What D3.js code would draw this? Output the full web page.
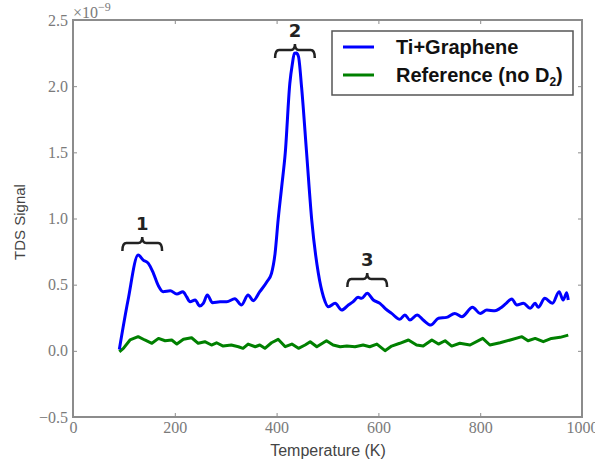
<!DOCTYPE html>
<html><head><meta charset="utf-8">
<script src="https://cdn.jsdelivr.net/npm/d3@7"></script>
<style>body{margin:0;background:#fff}svg{display:block}</style>
</head><body>
<script>
// Temperature (K) and TDS signal (×1e-9)
const blueT = [91,108,128,138,148,158,168,177,191,204,216,223,230,240,249,256,264,274,289,302,318,331,344,354,367,381,390,397,403,410,417,426,431,435,439,443,449,459,469,482,492,502,515,528,541,550,560,567,578,590,603,613,626,642,652,662,676,688,703,718,734,750,764,785,800,813,829,839,851,862,872,885,898,908,914,927,942,955,963,970,973];
const blueV = [0.01,0.38,0.724,0.686,0.661,0.586,0.49,0.447,0.454,0.429,0.447,0.409,0.371,0.384,0.339,0.359,0.422,0.364,0.371,0.371,0.394,0.346,0.422,0.379,0.447,0.522,0.586,0.737,0.989,1.24,1.495,2.022,2.17,2.249,2.25,2.223,1.996,1.493,0.989,0.586,0.409,0.333,0.359,0.308,0.346,0.37,0.404,0.397,0.435,0.384,0.359,0.321,0.283,0.238,0.271,0.233,0.271,0.233,0.195,0.246,0.253,0.283,0.258,0.329,0.283,0.308,0.303,0.321,0.359,0.392,0.346,0.359,0.321,0.359,0.329,0.397,0.359,0.447,0.384,0.439,0.384];
const greenT = [91,99,112,128,141,155,168,181,194,204,217,233,246,259,272,282,295,311,325,334,344,358,367,377,390,403,417,430,443,456,466,479,498,511,525,538,554,570,583,597,613,626,642,659,675,688,705,718,731,744,760,780,805,819,839,859,882,894,908,924,940,957,973];
const greenV = [-0.007,0.019,0.082,0.107,0.082,0.057,0.094,0.076,0.082,0.051,0.087,0.099,0.057,0.069,0.044,0.061,0.036,0.044,0.031,0.019,0.051,0.031,0.044,0.019,0.061,0.087,0.031,0.051,0.019,0.044,0.069,0.031,0.076,0.044,0.031,0.036,0.031,0.044,0.031,0.051,0.001,0.036,0.057,0.082,0.044,0.036,0.082,0.051,0.076,0.036,0.057,0.044,0.094,0.044,0.061,0.082,0.107,0.076,0.094,0.069,0.094,0.102,0.119];
const seriesNames = ["Ti+Graphene", "Reference (no D", "2", ")"];
const xTicks = [0,200,400,600,800,1000];
const yTicks = [-0.5,0,0.5,1.0,1.5,2.0,2.5];
const peakLabels = ["1","2","3"];
const peakT = [136,436,578];
const peakY = [0.815,2.273,0.543];
const peakHalfWidthT = 39;

const W=595,H=465;
const svg=d3.select("body").append("svg").attr("width",W).attr("height",H);
const x=d3.scaleLinear().domain([0,1000]).range([73,582]);
const y=d3.scaleLinear().domain([-0.5,2.5]).range([417,20]);
const tickColor="#7a7a7a";
const serif="'Liberation Serif','Times New Roman',serif";
const sans="'Liberation Sans',Arial,sans-serif";

function styleAxis(g){
  g.select(".domain").remove();
  g.selectAll(".tick line").attr("stroke","#8c8c8c").attr("stroke-width",1);
  g.selectAll(".tick text").attr("fill",tickColor).attr("font-family",serif).attr("font-size",16);
}
const fmtY=d3.format(".1f");
svg.append("g").attr("transform","translate(0,417)")
  .call(d3.axisBottom(x).tickValues(xTicks).tickFormat(d3.format("d")).tickSizeInner(-4).tickSizeOuter(0).tickPadding(5)).call(styleAxis);
svg.append("g").attr("transform","translate(0,20)")
  .call(d3.axisTop(x).tickValues(xTicks).tickFormat("").tickSizeInner(-4).tickSizeOuter(0)).call(styleAxis);
svg.append("g").attr("transform","translate(73,0)")
  .call(d3.axisLeft(y).tickValues(yTicks).tickFormat(fmtY).tickSizeInner(-4).tickSizeOuter(0).tickPadding(5)).call(styleAxis);
svg.append("g").attr("transform","translate(582,0)")
  .call(d3.axisRight(y).tickValues(yTicks).tickFormat("").tickSizeInner(-4).tickSizeOuter(0)).call(styleAxis);

// frame
svg.append("rect").attr("x",73).attr("y",20).attr("width",509).attr("height",397)
  .attr("fill","none").attr("stroke","#8c8c8c").attr("stroke-width",2);

// offset text
const off=svg.append("text").attr("x",73).attr("y",18).attr("fill",tickColor).attr("font-family",serif).attr("font-size",16);
off.append("tspan").text("×10");
off.append("tspan").attr("dy",-7).attr("font-size",12).text("−9");

// lines
const line=d3.line().x(d=>x(d[0])).y(d=>y(d[1]));
const smooth=d3.line().x(d=>x(d[0])).y(d=>y(d[1])).curve(d3.curveMonotoneX);
svg.append("path").datum(greenT.map((t,i)=>[t,greenV[i]])).attr("d",line)
  .attr("fill","none").attr("stroke","#008000").attr("stroke-width",3).attr("stroke-linejoin","round");
svg.append("path").datum(blueT.map((t,i)=>[t,blueV[i]])).attr("d",smooth)
  .attr("fill","none").attr("stroke","#0000ff").attr("stroke-width",3).attr("stroke-linejoin","round");

// braces
peakLabels.forEach((lab,i)=>{
  const cx=x(peakT[i]), by=y(peakY[i]);
  const w=x(peakT[i]+peakHalfWidthT)-cx, h=6, d=8, r=4;
  const p=`M${cx-w},${by+d} Q${cx-w},${by} ${cx-w+r},${by} L${cx-r},${by} Q${cx},${by} ${cx},${by-h} Q${cx},${by} ${cx+r},${by} L${cx+w-r},${by} Q${cx+w},${by} ${cx+w},${by+d}`;
  svg.append("path").attr("d",p).attr("fill","none").attr("stroke","#222").attr("stroke-width",2.5);
  svg.append("text").attr("x",cx).attr("y",by-19).attr("dy","0.35em").attr("text-anchor","middle")
    .attr("font-family","'DejaVu Sans',sans-serif").attr("font-weight","bold").attr("font-size",18).attr("fill","#222").text(lab);
});

// axis labels
svg.append("text").attr("x",328).attr("y",456).attr("text-anchor","middle").attr("font-family",sans)
  .attr("font-size",16).attr("fill","#444").text("Temperature (K)");
svg.append("text").attr("transform","translate(25,222) rotate(-90)").attr("text-anchor","middle").attr("font-family",sans)
  .attr("font-size",15).attr("fill","#444").text("TDS Signal");

// legend
const lg=svg.append("g");
lg.append("rect").attr("x",332).attr("y",31).attr("width",241).attr("height",64).attr("fill","#fff").attr("stroke","#555").attr("stroke-width",1.5);
const colors=["#0000ff","#008000"];
const rowsY=[47,75];
rowsY.forEach((ry,i)=>{
  lg.append("line").attr("x1",343).attr("x2",374).attr("y1",ry).attr("y2",ry).attr("stroke",colors[i]).attr("stroke-width",3);
});
lg.append("text").attr("x",396).attr("y",rowsY[0]).attr("dy","0.36em").attr("font-family",sans).attr("font-weight","bold").attr("font-size",20).attr("fill","#111").text(seriesNames[0]);
const t2=lg.append("text").attr("x",396).attr("y",rowsY[1]).attr("dy","0.36em").attr("font-family",sans).attr("font-weight","bold").attr("font-size",20).attr("fill","#111");
t2.append("tspan").text(seriesNames[1]);
t2.append("tspan").attr("font-size",12).attr("dy",4).text(seriesNames[2]);
t2.append("tspan").attr("dy",-4).text(seriesNames[3]);
</script>
</body></html>
